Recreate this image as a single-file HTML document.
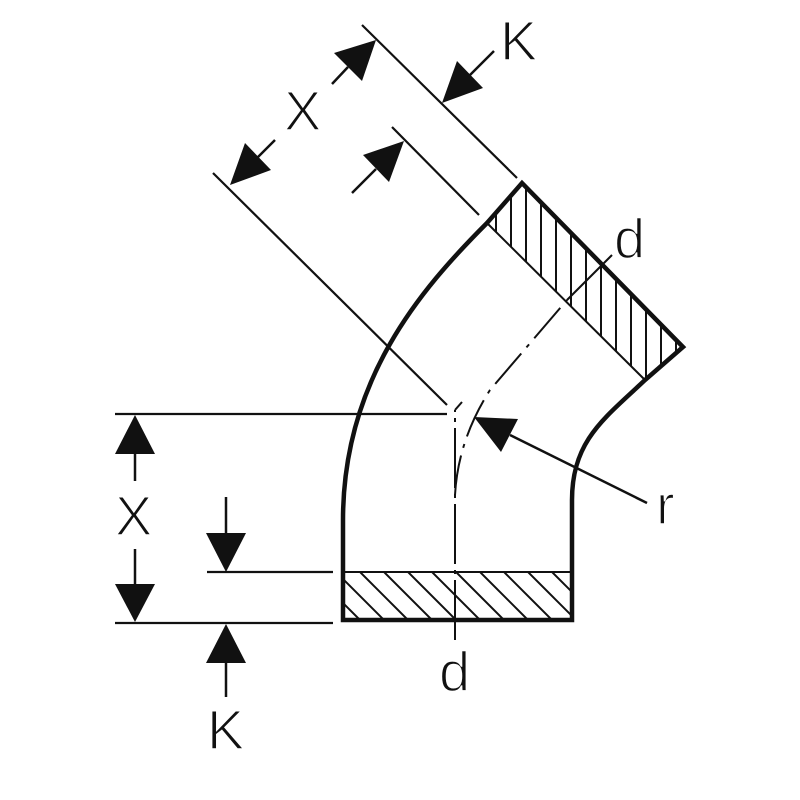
<!DOCTYPE html>
<html><head><meta charset="utf-8"><style>
html,body{margin:0;padding:0;background:#fff;}
svg{display:block;}
text{font-family:"Liberation Sans",sans-serif;font-size:56px;fill:#111;font-weight:normal;stroke:#fff;stroke-width:1.6px;}
</style></head><body>
<svg width="800" height="800" viewBox="0 0 800 800" xmlns="http://www.w3.org/2000/svg">
<defs>
<clipPath id="ct"><polygon points="522,183 683,347 645,380 487,223"/></clipPath>
<clipPath id="cb"><rect x="343" y="572" width="229" height="48"/></clipPath>
</defs>
<g stroke="#111" fill="none">
<g clip-path="url(#ct)" stroke-width="2">
<line x1="496" y1="150" x2="496" y2="400"/><line x1="511" y1="150" x2="511" y2="400"/><line x1="526" y1="150" x2="526" y2="400"/><line x1="541" y1="150" x2="541" y2="400"/><line x1="556" y1="150" x2="556" y2="400"/><line x1="571" y1="150" x2="571" y2="400"/><line x1="586" y1="150" x2="586" y2="400"/><line x1="601" y1="150" x2="601" y2="400"/><line x1="616" y1="150" x2="616" y2="400"/><line x1="631" y1="150" x2="631" y2="400"/><line x1="646" y1="150" x2="646" y2="400"/><line x1="661" y1="150" x2="661" y2="400"/><line x1="676" y1="150" x2="676" y2="400"/>
</g>
<g clip-path="url(#cb)" stroke-width="2">
<line x1="300" y1="560" x2="370" y2="630"/><line x1="324" y1="560" x2="394" y2="630"/><line x1="348" y1="560" x2="418" y2="630"/><line x1="372" y1="560" x2="442" y2="630"/><line x1="396" y1="560" x2="466" y2="630"/><line x1="420" y1="560" x2="490" y2="630"/><line x1="444" y1="560" x2="514" y2="630"/><line x1="468" y1="560" x2="538" y2="630"/><line x1="492" y1="560" x2="562" y2="630"/><line x1="516" y1="560" x2="586" y2="630"/><line x1="540" y1="560" x2="610" y2="630"/><line x1="564" y1="560" x2="634" y2="630"/>
</g>
<path d="M487,223 L522,183 L683,347 L645,380 C605,418 572,440 572,500 L572,620 L343,620 L343,520 C343,380 420,290 487,223" stroke-width="4.5" stroke-linejoin="miter"/>
<line x1="487" y1="223" x2="645" y2="380" stroke-width="2"/>
<line x1="343" y1="572" x2="572" y2="572" stroke-width="2"/>
<path d="M455,640 L455,410" stroke-width="2" stroke-dasharray="60 6 4 6"/>
<path d="M455,495 Q458,440 490,390 L567,300" stroke-width="2" stroke-dasharray="40 8 4 8"/>
<line x1="567" y1="300" x2="612" y2="255" stroke-width="2"/>
<line x1="455" y1="410" x2="462" y2="402" stroke-width="2"/>
<line x1="362" y1="25" x2="517" y2="178" stroke-width="2.2"/>
<line x1="392" y1="127" x2="479" y2="215" stroke-width="2.2"/>
<line x1="213" y1="173" x2="447" y2="405" stroke-width="2.2"/>
<line x1="115" y1="414" x2="447" y2="414" stroke-width="2.2"/>
<line x1="115" y1="623" x2="333" y2="623" stroke-width="2.2"/>
<line x1="207" y1="572" x2="333" y2="572" stroke-width="2.2"/>
<g stroke-width="2.5">
<line x1="348" y1="67" x2="332" y2="84"/>
<line x1="258" y1="157" x2="275" y2="140"/>
<line x1="470" y1="75" x2="494" y2="51"/>
<line x1="376" y1="169" x2="352" y2="193"/>
<line x1="510" y1="435" x2="647" y2="503"/>
<line x1="135" y1="453" x2="135" y2="481"/>
<line x1="135" y1="549" x2="135" y2="585"/>
<line x1="226" y1="497" x2="226" y2="533"/>
<line x1="226" y1="662" x2="226" y2="697"/>
</g>
</g>
<g fill="#111">
<polygon points="376,40 334,53 362,81"/>
<polygon points="230,185 271,170 245,143"/>
<polygon points="442,103 483,88 457,61"/>
<polygon points="404,141 389,182 363,155"/>
<polygon points="474,417 518,419 501,452"/>
<polygon points="135,415 115,454 155,454"/>
<polygon points="135,622 115,584 155,584"/>
<polygon points="226,572 206,533 246,533"/>
<polygon points="226,624 206,663 246,663"/>
</g>
<text x="284" y="130">X</text>
<text x="500" y="60">K</text>
<text x="614" y="258">d</text>
<text x="656" y="524">r</text>
<text x="439" y="691">d</text>
<text x="115" y="535">X</text>
<text x="207" y="749">K</text>
</svg>
</body></html>
